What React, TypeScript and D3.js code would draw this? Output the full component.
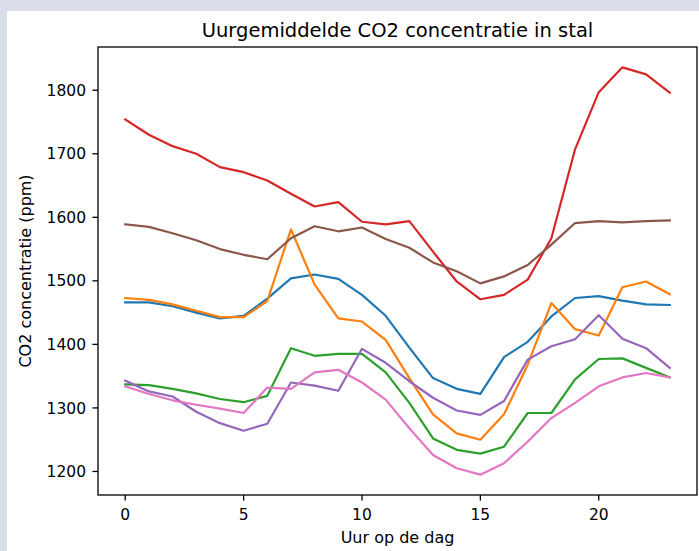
import React from "react";
import * as d3 from "d3";

const hours: number[] = d3.range(0, 24);
const blue = [1466,1466,1460,1450,1441,1445,1472,1504,1510,1503,1478,1445,1395,1347,1330,1322,1380,1404,1444,1473,1476,1469,1463,1462];
const orange = [1473,1470,1463,1453,1443,1443,1468,1581,1494,1441,1436,1407,1347,1290,1260,1250,1290,1368,1465,1424,1414,1490,1499,1479];
const green = [1337,1336,1330,1323,1314,1309,1319,1394,1382,1385,1385,1356,1308,1252,1234,1228,1239,1292,1292,1345,1377,1378,1363,1348];
const red = [1754,1730,1712,1700,1679,1671,1658,1637,1617,1624,1593,1589,1594,1546,1499,1471,1478,1502,1567,1707,1797,1836,1825,1796];
const purple = [1343,1326,1318,1294,1276,1264,1275,1340,1335,1327,1393,1371,1342,1316,1296,1289,1311,1376,1397,1408,1446,1409,1394,1363];
const brown = [1589,1585,1575,1564,1550,1541,1534,1567,1586,1578,1584,1566,1552,1529,1515,1496,1507,1525,1557,1591,1594,1592,1594,1595];
const pink = [1334,1322,1312,1305,1299,1292,1332,1330,1356,1360,1340,1313,1268,1226,1205,1195,1213,1247,1284,1308,1334,1348,1355,1348];

const seriesList = [blue, orange, green, red, purple, brown, pink];
const colors = ["#1f77b4", "#ff7f0e", "#2ca02c", "#d62728", "#9467bd", "#8c564b", "#e377c2"];
const xTicks = [0, 5, 10, 15, 20];
const yTicks = [1200, 1300, 1400, 1500, 1600, 1700, 1800];

const W = 699, H = 551;
const L = 98, R = 697, T = 47, B = 495;

export default function App() {
  const all = seriesList.flat();
  const yMin = d3.min(all)!, yMax = d3.max(all)!;
  const ym = (yMax - yMin) * 0.05;
  const x = d3.scaleLinear().domain([-1.15, 24.15]).range([L, R]);
  const y = d3.scaleLinear().domain([yMin - ym, yMax + ym]).range([B, T]);
  const line = d3.line<number>().x((_, i) => x(hours[i])).y((d) => y(d));
  const font = "DejaVu Sans, sans-serif";
  return (
    <svg width={W} height={H} style={{ position: "absolute", left: 0, top: 0 }} fontFamily={font}>
      <rect x={0} y={0} width={W} height={H} fill="#d9deea" />
      <rect x={7} y={11} width={W - 7} height={H - 11} fill="#ffffff" />
      <text x={(L + R) / 2} y={37} textAnchor="middle" fontSize={19.5} fill="#000">
        Uurgemiddelde CO2 concentratie in stal
      </text>
      <g>
        {seriesList.map((s, k) => (
          <path key={k} d={line(s)!} fill="none" stroke={colors[k]} strokeWidth={2.2} strokeLinejoin="round" strokeLinecap="square" />
        ))}
      </g>
      <rect x={L} y={T} width={R - L} height={B - T} fill="none" stroke="#000" strokeWidth={1.3} />
      {xTicks.map((t) => (
        <g key={t}>
          <line x1={x(t)} x2={x(t)} y1={B} y2={B + 5.6} stroke="#000" strokeWidth={1.3} />
          <text x={x(t)} y={520} textAnchor="middle" fontSize={15.5} fill="#000">{t}</text>
        </g>
      ))}
      {yTicks.map((t) => (
        <g key={t}>
          <line x1={L - 5.6} x2={L} y1={y(t)} y2={y(t)} stroke="#000" strokeWidth={1.3} />
          <text x={86} y={y(t)} dy="0.36em" textAnchor="end" fontSize={15.5} fill="#000">{t}</text>
        </g>
      ))}
      <text x={(L + R) / 2} y={543} textAnchor="middle" fontSize={16} fill="#000">Uur op de dag</text>
      <text transform={`translate(31,${(T + B) / 2}) rotate(-90)`} textAnchor="middle" fontSize={16} fill="#000">
        CO2 concentratie (ppm)
      </text>
    </svg>
  );
}
